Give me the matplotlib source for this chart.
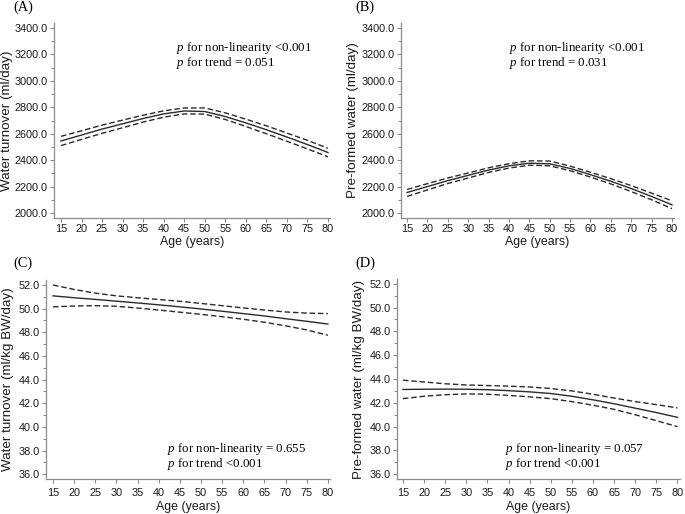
import numpy as np
import matplotlib
matplotlib.use('Agg')
import matplotlib.pyplot as plt
from matplotlib.ticker import MultipleLocator, FormatStrFormatter

plt.rcParams['mathtext.fontset'] = 'custom'
plt.rcParams['mathtext.rm'] = 'Liberation Serif'
plt.rcParams['mathtext.it'] = 'Liberation Serif:italic'

W, H = 685, 514

age = [15, 20, 25, 30, 35, 40, 45, 50, 55, 60, 65, 70, 75, 80]

# (A) water turnover, ml/day
a_mean = [2545, 2590, 2635, 2675, 2715, 2750, 2772, 2768, 2730, 2682, 2630, 2575, 2518, 2458]
a_upper = [2580, 2622, 2665, 2703, 2740, 2773, 2795, 2795, 2758, 2710, 2660, 2605, 2550, 2490]
a_lower = [2510, 2557, 2603, 2645, 2688, 2725, 2750, 2748, 2708, 2655, 2600, 2543, 2485, 2425]

# (B) pre-formed water, ml/day
b_mean = [2155, 2200, 2245, 2285, 2325, 2357, 2377, 2372, 2337, 2290, 2240, 2185, 2125, 2062]
b_upper = [2178, 2222, 2265, 2303, 2342, 2373, 2395, 2393, 2355, 2308, 2260, 2207, 2150, 2092]
b_lower = [2125, 2175, 2223, 2265, 2307, 2340, 2362, 2357, 2320, 2272, 2220, 2162, 2100, 2033]

# (C) water turnover, ml/kg BW/day
c_mean = [51.08, 50.92, 50.78, 50.63, 50.48, 50.32, 50.15, 49.97, 49.78, 49.58, 49.38, 49.15, 48.93, 48.70]
c_upper = [52.00, 51.62, 51.31, 51.08, 50.92, 50.77, 50.62, 50.44, 50.25, 50.06, 49.88, 49.72, 49.62, 49.58]
c_lower = [50.15, 50.22, 50.25, 50.20, 50.05, 49.88, 49.70, 49.52, 49.32, 49.10, 48.85, 48.55, 48.20, 47.75]

# (D) pre-formed water, ml/kg BW/day
d_mean = [43.12, 43.14, 43.15, 43.14, 43.10, 43.02, 42.92, 42.78, 42.55, 42.25, 41.92, 41.55, 41.18, 40.78]
d_upper = [43.90, 43.75, 43.60, 43.50, 43.45, 43.40, 43.33, 43.20, 43.00, 42.72, 42.40, 42.10, 41.85, 41.57]
d_lower = [42.35, 42.55, 42.68, 42.75, 42.72, 42.62, 42.50, 42.35, 42.10, 41.80, 41.45, 41.00, 40.50, 40.00]

xticks = list(range(15, 81, 5))

panels = [
    dict(tag='(A)', ylabel='Water turnover (ml/day)', m=a_mean, u=a_upper, l=a_lower,
         p1='$p$ for non-linearity <0.001', p2='$p$ for trend = 0.051',
         box=(54, 330, 23, 218), xlim=(13.3, 80.5), ylim=(1962, 3438),
         yt=(2000, 3400, 200, 100), ptxt=(176, 48), tagpos=(13, 7), ylx=7, xly=242, xpad=1.5),
    dict(tag='(B)', ylabel='Pre-formed water (ml/day)', m=b_mean, u=b_upper, l=b_lower,
         p1='$p$ for non-linearity <0.001', p2='$p$ for trend = 0.031',
         box=(401, 674, 23, 218), xlim=(13.5, 80.5), ylim=(1962, 3438),
         yt=(2000, 3400, 200, 100), ptxt=(509, 48), tagpos=(355, 7), ylx=353, xly=242, xpad=1.5),
    dict(tag='(C)', ylabel='Water turnover (ml/kg BW/day)', m=c_mean, u=c_upper, l=c_lower,
         p1='$p$ for non-linearity = 0.655', p2='$p$ for trend <0.001',
         box=(46, 330, 280, 479), xlim=(13.35, 80.5), ylim=(35.6, 52.42),
         yt=(36, 52, 2, 1), ptxt=(167, 449), tagpos=(13, 263), ylx=8, xly=507, xpad=3.5),
    dict(tag='(D)', ylabel='Pre-formed water (ml/kg BW/day)', m=d_mean, u=d_upper, l=d_lower,
         p1='$p$ for non-linearity = 0.057', p2='$p$ for trend <0.001',
         box=(397, 680, 279, 479), xlim=(13.6, 80.6), ylim=(35.6, 52.4),
         yt=(36, 52, 2, 1), ptxt=(505, 449), tagpos=(355, 263), ylx=359, xly=507, xpad=3.5),
]

sans = 'Liberation Sans'
serif = 'Liberation Serif'
spine_col = '#8c8c8c'
line_col = '#2b2b2b'

fig = plt.figure(figsize=(W / 100, H / 100), dpi=100)

for p in panels:
    l, r, t, b = p['box']
    ax = fig.add_axes([l / W, 1 - b / H, (r - l) / W, (b - t) / H])
    ax.plot(age, p['m'], color=line_col, lw=1.0)
    ax.plot(age, p['u'], color=line_col, lw=1.0, dashes=(4, 2))
    ax.plot(age, p['l'], color=line_col, lw=1.0, dashes=(4, 2))
    ax.set_xlim(*p['xlim'])
    ax.set_ylim(*p['ylim'])
    ax.set_xticks(xticks)
    y0, y1, step, minor = p['yt']
    ax.set_yticks(np.arange(y0, y1 + step / 2, step))
    ax.yaxis.set_minor_locator(MultipleLocator(minor))
    ax.yaxis.set_major_formatter(FormatStrFormatter('%.1f'))
    for s in ['top', 'right']:
        ax.spines[s].set_visible(False)
    for s in ['left', 'bottom']:
        ax.spines[s].set_color(spine_col)
        ax.spines[s].set_linewidth(0.9)
    ax.tick_params(which='both', direction='out', color=spine_col, width=0.8,
                   labelsize=7.8, pad=1.5, labelcolor='#1a1a1a')
    ax.tick_params(axis='x', pad=p['xpad'])
    ax.tick_params(which='major', length=3)
    ax.tick_params(which='minor', length=2)
    for lab in ax.get_xticklabels() + ax.get_yticklabels():
        lab.set_fontfamily(sans)
    ax.set_xlabel('Age (years)', fontsize=8.9, family=sans, va='center', color='#1a1a1a')
    ax.set_ylabel(p['ylabel'], fontsize=9.6, family=sans, va='center', color='#1a1a1a')
    ax.yaxis.set_label_coords((p['ylx'] - l) / (r - l), 0.5)
    ax.xaxis.set_label_coords(0.5, (b - p['xly']) / (b - t))

    px, py = p['ptxt']
    for i, txt in enumerate([p['p1'], p['p2']]):
        fig.text(px / W, 1 - (py + 15 * i) / H, txt, fontsize=9.3,
                 family=serif, va='center', ha='left')
    tx, ty = p['tagpos']
    fig.text(tx / W, 1 - ty / H, p['tag'], fontsize=10.4, family=serif,
             va='center', ha='left')

fig.savefig('out.png', dpi=100, facecolor='white')
